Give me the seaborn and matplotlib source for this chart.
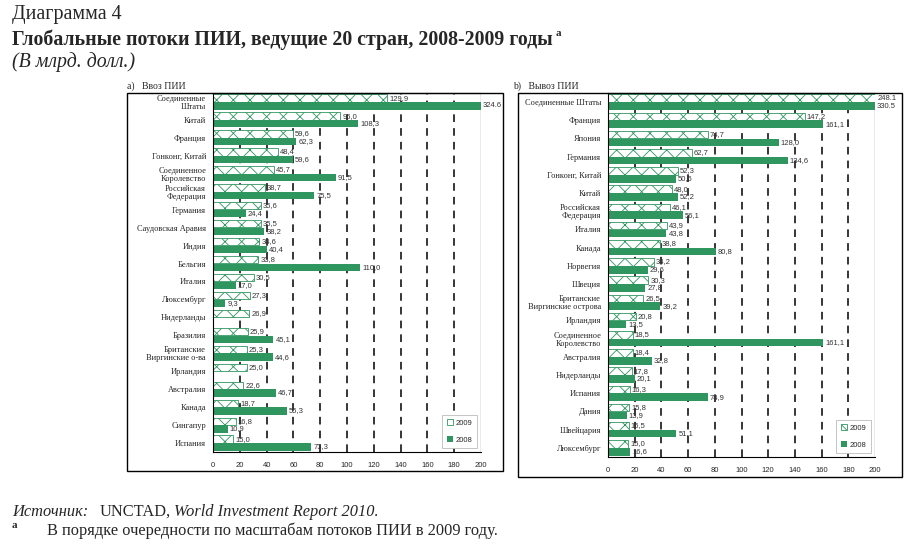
import numpy as np
import pandas as pd
import seaborn as sns
import matplotlib.pyplot as plt
from matplotlib.patches import Rectangle

GREEN = '#2f9660'

countries_in = ['Соединенные\nШтаты', 'Китай', 'Франция', 'Гонконг, Китай',
                'Соединенное\nКоролевство', 'Российская\nФедерация', 'Германия',
                'Саудовская Аравия', 'Индия', 'Бельгия', 'Италия', 'Люксембург',
                'Нидерланды', 'Бразилия', 'Британские\nВиргинские о-ва', 'Ирландия',
                'Австралия', 'Канада', 'Сингапур', 'Испания']
in_2009 = [129.9, 95.0, 59.6, 48.4, 45.7, 38.7, 35.6, 35.5, 34.6, 33.8,
           30.5, 27.3, 26.9, 25.9, 25.3, 25.0, 22.6, 18.7, 16.8, 15.0]
in_2008 = [324.6, 108.3, 62.3, 59.6, 91.5, 75.5, 24.4, 38.2, 40.4, 110.0,
           17.0, 9.3, np.nan, 45.1, 44.6, np.nan, 46.7, 55.3, 10.9, 73.3]

countries_out = ['Соединенные Штаты', 'Франция', 'Япония', 'Германия',
                 'Гонконг, Китай', 'Китай', 'Российская\nФедерация', 'Италия',
                 'Канада', 'Норвегия', 'Швеция', 'Британские\nВиргинские острова',
                 'Ирландия', 'Соединенное\nКоролевство', 'Австралия', 'Нидерланды',
                 'Испания', 'Дания', 'Швейцария', 'Люксембург']
out_2009 = [248.1, 147.2, 74.7, 62.7, 52.3, 48.0, 46.1, 43.9, 38.8, 34.2,
            30.3, 26.5, 20.8, 18.5, 18.4, 17.8, 16.3, 15.8, 15.5, 15.0]
out_2008 = [330.5, 161.1, 128.0, 134.6, 50.6, 52.2, 56.1, 43.8, 80.8, 29.6,
            27.8, 39.2, 13.5, 161.1, 32.8, 20.1, 74.9, 13.9, 51.1, 16.6]

years = ['2009', '2008']
x_ticks = list(range(0, 201, 20))
XMAX = 200


def long_df(countries, v2009, v2008):
    return pd.DataFrame({
        'country': countries * 2,
        'year': ['2009'] * len(countries) + ['2008'] * len(countries),
        'value': list(v2009) + list(v2008),
    })


def fmt(v):
    if v > XMAX:
        return f'{v:.1f}'
    return f'{v:.1f}'.replace('.', ',')


def panel(ax, countries, v2009, v2008):
    df = long_df(countries, v2009, v2008)
    sns.barplot(data=df, y='country', x='value', hue='year', hue_order=years,
                palette={'2009': 'white', '2008': GREEN}, orient='h',
                width=0.86, gap=0.05, ax=ax, legend=False, saturation=1)
    c09, c08 = ax.containers[0], ax.containers[1]
    for p in c09:
        if p is None:
            continue
        p.set_edgecolor(GREEN)
        p.set_linewidth(0.6)
        p.set_hatch('xx')
    for p in c08:
        if p is not None:
            p.set_edgecolor('none')
    ax.set_xlim(0, XMAX)
    ax.set_xticks(x_ticks)
    for x in x_ticks[1:-1]:
        ax.axvline(x, color='black', lw=1.1, ls=(0, (5, 4)), zorder=0)
    ax.axvline(XMAX, color='#999999', lw=1.0, zorder=0)

    # value labels next to bar ends (clipped bars get theirs at the edge)
    for cont in (c09, c08):
        for p in cont:
            if p is None:
                continue
            v = p.get_width()
            if np.isnan(v):
                continue
            x = min(v, XMAX)
            ax.annotate(fmt(v), (x, p.get_y() + p.get_height() / 2),
                        xytext=(1.5, 0), textcoords='offset points',
                        fontsize=5.5, family='Liberation Sans', color='#333333',
                        va='center', ha='left', annotation_clip=False)

    ax.set_xlabel('')
    ax.set_ylabel('')
    ax.tick_params(axis='x', labelsize=5.5, length=3, width=0.8, pad=4)
    ax.tick_params(axis='y', labelsize=6, length=3, width=0.8, pad=2)
    for lbl in ax.get_yticklabels():
        lbl.set_fontfamily('Liberation Serif')
        lbl.set_linespacing(1.0)
    for lbl in ax.get_xticklabels():
        lbl.set_fontfamily('Liberation Sans')
    for s in ['left', 'bottom', 'top']:
        ax.spines[s].set_color('black')
        ax.spines[s].set_linewidth(0.8)
    ax.spines['right'].set_visible(False)
    h09 = next(p for p in c09 if p is not None)
    h08 = next(p for p in c08 if p is not None)
    leg = ax.legend([h09, h08], years, loc='lower right',
                    handlelength=0.8, handleheight=0.8, handletextpad=0.4,
                    labelspacing=1.2, borderpad=0.6, fancybox=False,
                    edgecolor='#bbbbbb', framealpha=1,
                    prop={'family': 'Liberation Sans', 'size': 5.5})
    leg.get_frame().set_linewidth(0.6)


sns.set_style('white')
plt.rcParams['hatch.linewidth'] = 0.6

W, H = 914, 547
fig = plt.figure(figsize=(W / 100, H / 100), dpi=100)


def box(x0, y0, x1, y1):
    return [x0 / W, 1 - y1 / H, (x1 - x0) / W, (y1 - y0) / H]


for x0, y0, x1, y1 in [(127, 93, 503, 471), (518, 93, 902, 477)]:
    b = box(x0, y0, x1, y1)
    fig.patches.append(Rectangle((b[0], b[1]), b[2], b[3], transform=fig.transFigure,
                                 fill=False, edgecolor='black', lw=1.0))

ax1 = fig.add_axes(box(213, 93, 481, 452))
ax2 = fig.add_axes(box(608, 93, 875, 457))
panel(ax1, countries_in, in_2009, in_2008)
panel(ax2, countries_out, out_2009, out_2008)

serif = 'Liberation Serif'
fig.text(127 / W, 1 - 86 / H, 'a)   Ввоз ПИИ', family=serif, fontsize=7, va='center')
fig.text(513 / W, 1 - 86 / H, 'b)   Вывоз ПИИ', family=serif, fontsize=7, va='center')

fig.text(12 / W, 1 - 15 / H, 'Диаграмма 4', family=serif, fontsize=14.3, va='center')
fig.text(12 / W, 1 - 40 / H, 'Глобальные потоки ПИИ, ведущие 20 стран, 2008-2009 годы',
         family=serif, fontsize=14.3, fontweight='bold', va='center')
fig.text(556 / W, 1 - 33 / H, 'a', family=serif, fontsize=8, fontweight='bold', va='center')
fig.text(12 / W, 1 - 62 / H, '(В млрд. долл.)', family=serif, fontsize=14.3,
         style='italic', va='center')

fig.text(12 / W, 1 - 512 / H, 'Источник:', family=serif, fontsize=11.8, style='italic', va='center')
fig.text(100 / W, 1 - 512 / H, 'UNCTAD,', family=serif, fontsize=11.8, va='center')
fig.text(174 / W, 1 - 512 / H, 'World Investment Report 2010.', family=serif, fontsize=11.8,
         style='italic', va='center')
fig.text(12 / W, 1 - 525 / H, 'a', family=serif, fontsize=8, fontweight='bold', va='center')
fig.text(47 / W, 1 - 531 / H, 'В порядке очередности по масштабам потоков ПИИ в 2009 году.',
         family=serif, fontsize=11.8, va='center')

fig.savefig('out.png', dpi=100, facecolor='white')
